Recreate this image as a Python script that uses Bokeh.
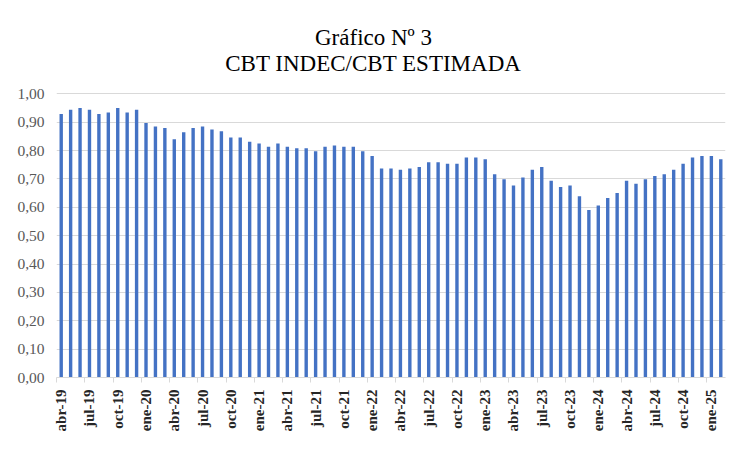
import math
from bokeh.plotting import figure
from bokeh.models import Range1d, FixedTicker, ColumnDataSource
from bokeh.core.properties import value
from bokeh.embed import file_html
from bokeh.resources import INLINE

months = [
    "abr-19", "may-19", "jun-19", "jul-19", "ago-19", "sep-19", "oct-19", "nov-19", "dic-19",
    "ene-20", "feb-20", "mar-20", "abr-20", "may-20", "jun-20", "jul-20", "ago-20", "sep-20", "oct-20", "nov-20", "dic-20",
    "ene-21", "feb-21", "mar-21", "abr-21", "may-21", "jun-21", "jul-21", "ago-21", "sep-21", "oct-21", "nov-21", "dic-21",
    "ene-22", "feb-22", "mar-22", "abr-22", "may-22", "jun-22", "jul-22", "ago-22", "sep-22", "oct-22", "nov-22", "dic-22",
    "ene-23", "feb-23", "mar-23", "abr-23", "may-23", "jun-23", "jul-23", "ago-23", "sep-23", "oct-23", "nov-23", "dic-23",
    "ene-24", "feb-24", "mar-24", "abr-24", "may-24", "jun-24", "jul-24", "ago-24", "sep-24", "oct-24", "nov-24", "dic-24",
    "ene-25", "feb-25",
]

ratio = [
    0.929, 0.944, 0.950, 0.944, 0.929, 0.934, 0.950, 0.934, 0.944,
    0.897, 0.885, 0.879, 0.840, 0.864, 0.879, 0.885, 0.874, 0.868, 0.846, 0.846, 0.831,
    0.825, 0.813, 0.825, 0.813, 0.808, 0.808, 0.797, 0.813, 0.818, 0.813, 0.813, 0.797,
    0.781, 0.737, 0.737, 0.732, 0.737, 0.742, 0.759, 0.759, 0.753, 0.753, 0.775, 0.775,
    0.769, 0.716, 0.699, 0.677, 0.705, 0.732, 0.742, 0.693, 0.671, 0.677, 0.639, 0.590,
    0.606, 0.633, 0.650, 0.693, 0.683, 0.699, 0.710, 0.716, 0.732, 0.753, 0.775, 0.781,
    0.781, 0.769,
]

y_ticks = [0.0, 0.1, 0.2, 0.3, 0.4, 0.5, 0.6, 0.7, 0.8, 0.9, 1.0]
y_tick_labels = ["0,00", "0,10", "0,20", "0,30", "0,40", "0,50", "0,60", "0,70", "0,80", "0,90", "1,00"]

title_lines = ["Gráfico Nº 3", "CBT INDEC/CBT ESTIMADA"]

SERIF = "Liberation Serif"

# layout in pixels
W, H = 732, 434
LEFT, RIGHT, BOTTOM = 56, 725, 380          # frame edges on the canvas
PX_PER_UNIT = 286.0                          # pixels for one unit of the value axis
TITLE_CX = 373                               # title centre on the canvas
TITLE_BASE = [37, 63]                        # title baselines on the canvas

n = len(months)
px_per_cat = (RIGHT - LEFT) / n

idx = list(range(n))
src = ColumnDataSource(dict(x=idx, top=ratio, label=months))

# the frame spans from the canvas top so the title can sit inside it
p = figure(width=W, height=H, output_backend="svg", toolbar_location=None,
           x_range=Range1d(-0.5, n - 0.5), y_range=Range1d(0, BOTTOM / PX_PER_UNIT),
           min_border_left=LEFT, min_border_right=W - RIGHT,
           min_border_bottom=H - BOTTOM, min_border_top=0)

p.vbar(x="x", top="top", width=0.36, source=src, fill_color="#4472C4", line_color=None)

tx = -0.5 + (TITLE_CX - LEFT) / px_per_cat
p.text(x=[tx, tx], y=[(BOTTOM - b) / PX_PER_UNIT for b in TITLE_BASE], text=title_lines,
       text_font=value(SERIF), text_font_size="23px", text_color="#000000",
       text_align="center", text_baseline="alphabetic")

p.outline_line_color = None
p.xgrid.grid_line_color = None
p.ygrid.grid_line_color = "#d9d9d9"
p.ygrid.grid_line_width = 1
p.ygrid.ticker = FixedTicker(ticks=y_ticks)

p.yaxis.ticker = FixedTicker(ticks=y_ticks)
p.yaxis.major_label_overrides = {t: l for t, l in zip(y_ticks, y_tick_labels)}
p.yaxis.axis_line_color = None
p.yaxis.major_tick_line_color = None
p.yaxis.minor_tick_line_color = None
p.yaxis.major_tick_out = 0
p.yaxis.major_label_standoff = 12
p.yaxis.major_label_text_font = SERIF
p.yaxis.major_label_text_font_size = "15.5px"
p.yaxis.major_label_text_color = "#595959"

label_pos = idx[::3]
p.xaxis.ticker = FixedTicker(ticks=label_pos, minor_ticks=[i - 0.5 for i in label_pos])
p.xaxis.major_label_overrides = {i: months[i] for i in label_pos}
p.xaxis.major_label_orientation = math.pi / 2
p.xaxis.axis_line_color = "#d9d9d9"
p.xaxis.major_tick_line_color = None
p.xaxis.major_tick_out = 0
p.xaxis.major_tick_in = 0
p.xaxis.minor_tick_line_color = "#d9d9d9"
p.xaxis.minor_tick_out = 5
p.xaxis.minor_tick_in = 0
p.xaxis.major_label_standoff = 7
p.xaxis.major_label_text_font = SERIF
p.xaxis.major_label_text_font_size = "15px"
p.xaxis.major_label_text_font_style = "bold"
p.xaxis.major_label_text_color = "#262626"

open("out.html", "w").write(file_html(p, INLINE))
